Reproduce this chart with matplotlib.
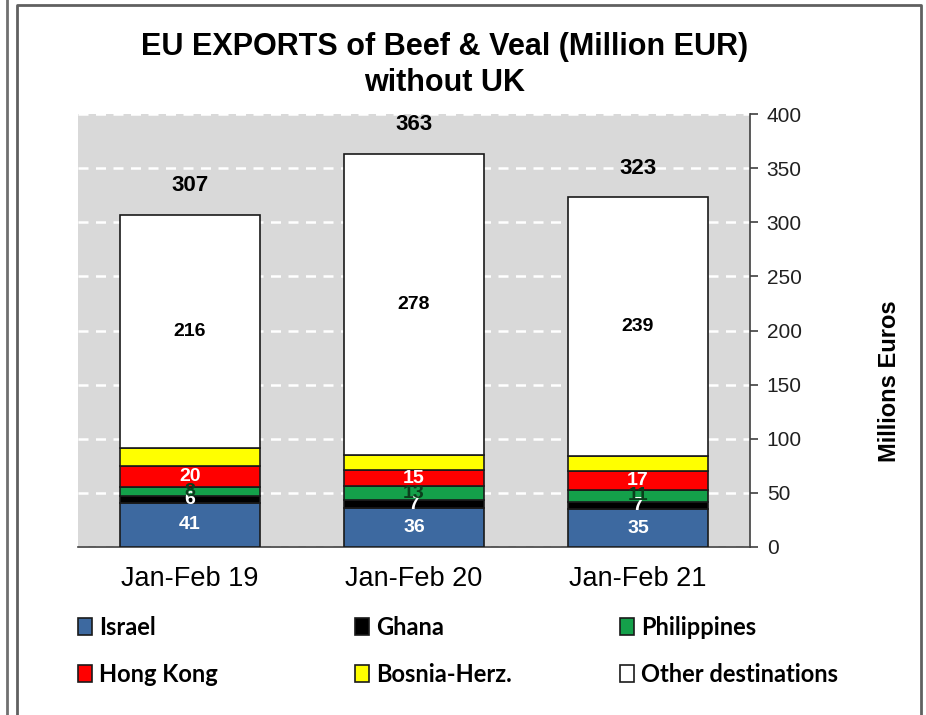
import matplotlib
matplotlib.use("Agg")
import matplotlib.pyplot as plt
from matplotlib.lines import Line2D
import numpy as np

periods = ["Jan-Feb 19", "Jan-Feb 20", "Jan-Feb 21"]
israel = [41, 36, 35]
ghana = [6, 7, 7]
philippines = [8, 13, 11]
hong_kong = [20, 15, 17]
bosnia = [16, 14, 14]
other = [216, 278, 239]
totals = [307, 363, 323]

series = [
    ("Israel", israel, "#3d69a0", "white"),
    ("Ghana", ghana, "#000000", "white"),
    ("Philippines", philippines, "#14a04a", "#0b3d1c"),
    ("Hong Kong", hong_kong, "#ff0000", "white"),
    ("Bosnia-Herz.", bosnia, "#ffff00", None),
    ("Other destinations", other, "#ffffff", "black"),
]

plt.rcParams["font.family"] = ["Liberation Sans", "DejaVu Sans"]

fig = plt.figure(figsize=(9.26, 7.15), dpi=100)
ax = fig.add_axes([78 / 926, 1 - 547 / 715, 672 / 926, 433 / 715])
ax.set_facecolor("#d9d9d9")

x = np.arange(len(periods))
bottom = np.zeros(len(periods))
handles = {}
for name, vals, color, lab_color in series:
    vals = np.array(vals, dtype=float)
    bars = ax.bar(x, vals, width=0.625, bottom=bottom, color=color,
                  edgecolor="#1a1a1a", linewidth=1.2, zorder=3, label=name)
    handles[name] = bars
    if lab_color is not None:
        for xi, b, v in zip(x, bottom, vals):
            ax.text(xi, b + v / 2, f"{v:.0f}", ha="center", va="center",
                    fontsize=14, fontweight="bold", color=lab_color, zorder=5)
    bottom += vals

for xi, t in zip(x, totals):
    ax.annotate(f"{t}", xy=(xi, t), xytext=(0, 21), textcoords="offset points",
                ha="center", va="center", fontsize=16, fontweight="bold",
                color="black")

ax.set_xlim(-0.5, 2.5)
ax.set_ylim(0, 400)
ax.set_yticks(np.arange(0, 401, 50))
ax.yaxis.tick_right()
ax.grid(axis="y", color="white", linestyle=(0, (4, 3)), linewidth=1.8, zorder=1)
ax.set_axisbelow(True)
for s in ["top", "left"]:
    ax.spines[s].set_visible(False)
ax.spines["right"].set_color("#404040")
ax.spines["bottom"].set_color("#404040")
ax.spines["right"].set_linewidth(1.2)
ax.spines["bottom"].set_linewidth(1.2)
ax.tick_params(axis="y", right=True, left=False, direction="out", length=6,
               width=1.2, color="#404040", labelsize=15, labelcolor="#202020", pad=6)
ax.set_xticks(x)
ax.set_xticklabels(periods)
ax.tick_params(axis="x", length=0, labelsize=19.5, pad=14)

fig.text(890 / 926, 1 - 381 / 715, "Millions Euros", rotation=90, ha="center",
         va="center", fontsize=17, fontweight="bold")

fig.text(445 / 926, 1 - 47 / 715, "EU EXPORTS of Beef & Veal (Million EUR)",
         ha="center", va="center", fontsize=22, fontweight="bold")
fig.text(445 / 926, 1 - 83 / 715, "without UK",
         ha="center", va="center", fontsize=22, fontweight="bold")

# legend in three columns
cols = [["Israel", "Hong Kong"], ["Ghana", "Bosnia-Herz."],
        ["Philippines", "Other destinations"]]
col_x = [78, 355, 620]
for names, cx in zip(cols, col_x):
    fig.legend([handles[n] for n in names], names, loc="upper left",
               bbox_to_anchor=(cx / 926, 1 - 616 / 715), frameon=False,
               borderpad=0, borderaxespad=0,
               handlelength=0.6, handleheight=0.7, handletextpad=0.3,
               labelspacing=1.0,
               prop={"family": "Lato", "weight": "bold", "size": 17})

# outer frames
fig.add_artist(Line2D([7 / 926, 7 / 926], [0, 1], color="#707070", linewidth=2))
fig.add_artist(Line2D([17 / 926, 17 / 926, 921 / 926, 921 / 926],
                      [0, 1 - 5 / 715, 1 - 5 / 715, 0], color="#606060",
                      linewidth=2))

fig.savefig("out.png", dpi=100, facecolor="white")
